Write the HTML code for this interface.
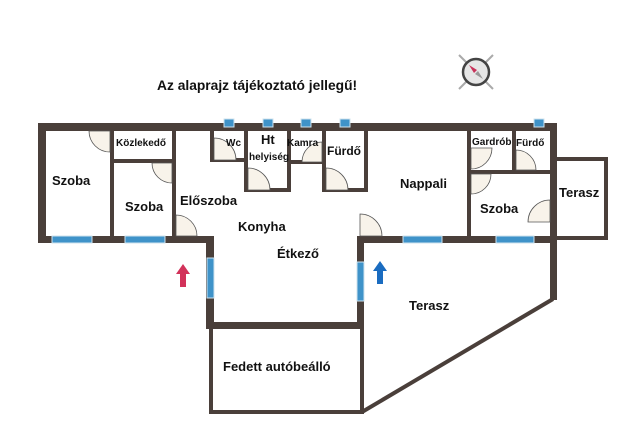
<!DOCTYPE html>
<html><head><meta charset="utf-8"><style>
html,body{margin:0;padding:0;background:#fff;}
svg{display:block}
text{font-family:"Liberation Sans",sans-serif;font-weight:bold;fill:#111;}
</style></head><body>
<svg width="640" height="441" viewBox="0 0 640 441" xmlns="http://www.w3.org/2000/svg">
<rect width="640" height="441" fill="#fff"/>
<text x="157" y="90" font-size="13.8">Az alaprajz tájékoztató jellegű!</text>
<g>
<line x1="459" y1="55" x2="493" y2="89" stroke="#aaa" stroke-width="2"/>
<line x1="493" y1="55" x2="459" y2="89" stroke="#aaa" stroke-width="2"/>
<circle cx="476" cy="72" r="13" fill="#e6e6e6" stroke="#444" stroke-width="2.5"/>
<polygon points="469,65 477,70 474,73" fill="#c8325a"/>
<polygon points="483,79 475,74 478,71" fill="#999"/>
</g>
<g fill="#4a3f3a">
<rect x="38" y="123" width="519" height="8"/>
<rect x="38" y="123" width="8" height="120"/>
<rect x="38" y="236" width="176" height="7"/>
<rect x="206" y="236" width="8" height="93"/>
<rect x="206" y="322" width="158" height="7"/>
<rect x="357" y="236" width="7" height="93"/>
<rect x="357" y="236" width="200" height="7"/>
<rect x="550" y="123" width="7" height="177"/>
<rect x="110" y="131" width="4" height="108"/>
<rect x="110" y="159" width="66" height="4"/>
<rect x="172" y="131" width="4" height="108"/>
<rect x="210" y="131" width="4" height="31"/>
<rect x="210" y="158" width="36" height="4"/>
<rect x="244" y="131" width="4" height="61"/>
<rect x="244" y="188" width="46" height="4"/>
<rect x="287" y="131" width="4" height="61"/>
<rect x="287" y="160" width="36" height="4"/>
<rect x="322" y="131" width="4" height="61"/>
<rect x="322" y="188" width="46" height="4"/>
<rect x="364" y="131" width="4" height="61"/>
<rect x="467" y="131" width="4" height="108"/>
<rect x="467" y="170" width="84" height="4"/>
<rect x="512" y="131" width="4" height="42"/>
<rect x="550" y="157" width="58" height="4"/>
<rect x="604" y="157" width="4" height="83"/>
<rect x="550" y="236" width="58" height="4"/>
<rect x="209" y="329" width="4" height="85"/>
<rect x="209" y="410" width="155" height="4"/>
<rect x="360" y="329" width="4" height="85"/>
</g>
<line x1="553" y1="299" x2="362" y2="412" stroke="#4a3f3a" stroke-width="4"/>
<g fill="#3f93c9" stroke="#cfe3ee" stroke-width="1">
<rect x="52" y="236" width="40" height="7"/>
<rect x="125" y="236" width="40" height="7"/>
<rect x="403" y="236" width="39" height="7"/>
<rect x="496" y="236" width="38" height="7"/>
<rect x="207" y="258" width="7" height="40"/>
<rect x="357" y="262" width="7" height="39"/>
<rect x="224" y="119" width="10" height="8"/>
<rect x="263" y="119" width="10" height="8"/>
<rect x="301" y="119" width="10" height="8"/>
<rect x="340" y="119" width="10" height="8"/>
<rect x="534" y="119" width="10" height="8"/>
</g>
<g fill="#f8f3ea" stroke="#555" stroke-width="0.8">
<path d="M110,131 L89,131 A21,21 0 0 0 110,152 Z"/>
<path d="M172,163 L152,163 A20,20 0 0 0 172,183 Z"/>
<path d="M176,236 L176,215 A21,21 0 0 1 197,236 Z"/>
<path d="M214,160 L214,138 A22,22 0 0 1 236,160 Z"/>
<path d="M248,190 L248,168 A22,22 0 0 1 270,190 Z"/>
<path d="M322,162 L302,162 A20,20 0 0 1 322,142 Z"/>
<path d="M326,190 L326,168 A22,22 0 0 1 348,190 Z"/>
<path d="M360,236 L360,214 A22,22 0 0 1 382,236 Z"/>
<path d="M471,148 L492,148 A21,21 0 0 1 471,169 Z"/>
<path d="M516,170 L516,150 A20,20 0 0 1 536,170 Z"/>
<path d="M471,174 L491,174 A20,20 0 0 1 471,194 Z"/>
<path d="M550,222 L550,200 A22,22 0 0 0 528,222 Z"/>
</g>
<polygon points="183,264 190,274 186,274 186,287 180,287 180,274 176,274" fill="#d2325a"/>
<polygon points="380,261 387,271 383,271 383,284 377,284 377,271 373,271" fill="#1a6cc0"/>
<text x="52" y="185" font-size="13">Szoba</text>
<text x="116" y="146" font-size="10">Közlekedő</text>
<text x="125" y="211" font-size="13">Szoba</text>
<text x="180" y="205" font-size="13">Előszoba</text>
<text x="238" y="231" font-size="13">Konyha</text>
<text x="277" y="258" font-size="13">Étkező</text>
<text x="226" y="146" font-size="10">Wc</text>
<text x="261" y="144" font-size="13">Ht</text>
<text x="249" y="160" font-size="10">helyiség</text>
<text x="287" y="146" font-size="10">Kamra</text>
<text x="327" y="155" font-size="12">Fürdő</text>
<text x="400" y="188" font-size="13">Nappali</text>
<text x="472" y="145" font-size="10">Gardrób</text>
<text x="516" y="146" font-size="10">Fürdő</text>
<text x="480" y="213" font-size="13">Szoba</text>
<text x="559" y="197" font-size="13">Terasz</text>
<text x="409" y="310" font-size="13">Terasz</text>
<text x="223" y="371" font-size="13">Fedett autóbeálló</text>
</svg>
</body></html>
